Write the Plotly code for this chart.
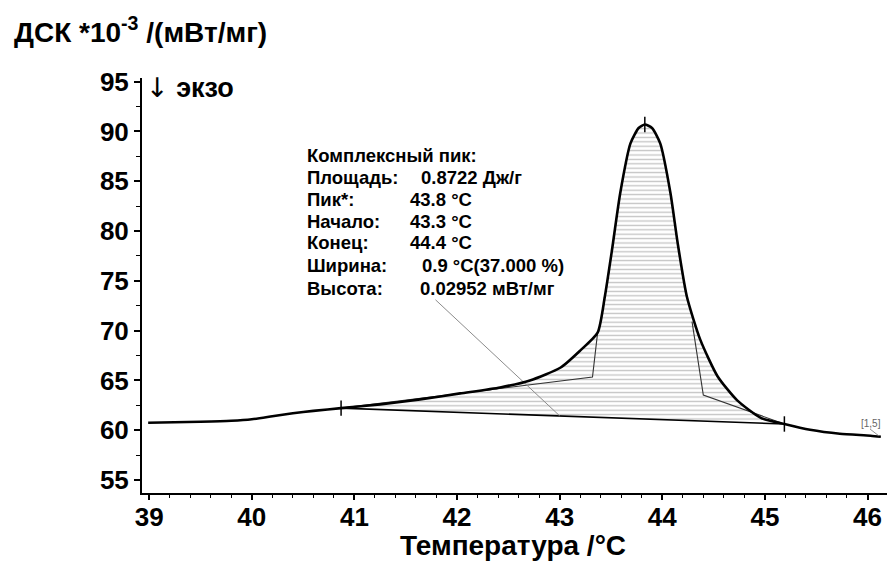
import plotly.graph_objects as go

# ---- data ----
temperature = [38.99, 39.5, 39.8, 40.0, 40.2, 40.4, 40.6, 40.87, 41.25, 41.64,
               42.03, 42.42, 42.71, 43.01, 43.2, 43.37, 43.44, 43.51, 43.59, 43.69,
               43.77, 43.83, 43.9, 43.98, 44.08, 44.15, 44.24, 44.37, 44.54, 44.73,
               44.96, 45.19, 45.44, 45.73, 46.03, 46.13]
dsc = [60.75, 60.85, 60.95, 61.1, 61.4, 61.7, 61.95, 62.22, 62.6, 63.1,
       63.7, 64.3, 65.0, 66.3, 68.0, 69.8, 73.4, 78.1, 83.8, 88.8,
       90.35, 90.7, 90.35, 88.8, 83.8, 78.8, 73.4, 69.1, 65.4, 63.0,
       61.25, 60.63, 60.05, 59.65, 59.45, 59.35]

peak_start = (40.87, 62.22)
peak_top = (43.83, 90.7)
peak_end = (45.19, 60.63)
onset_line_x = [40.87, 43.32, 43.37]
onset_line_y = [62.22, 65.35, 69.8]
endset_line_x = [44.29, 44.40, 45.19]
endset_line_y = [70.9, 63.54, 60.63]
leader_x = [41.79, 43.0]
leader_y = [73.1, 61.45]

x_ticks = [39, 40, 41, 42, 43, 44, 45, 46]
y_ticks = [55, 60, 65, 70, 75, 80, 85, 90, 95]

info_labels = ["Комплексный пик:", "Площадь:", "Пик*:", "Начало:", "Конец:", "Ширина:", "Высота:"]
info_values = ["", "0.8722 Дж/г", "43.8 °C", "43.3 °C", "44.4 °C", "0.9 °C(37.000 %)", "0.02952 мВт/мг"]
info_value_px = [0, 419, 408, 408, 408, 420, 418]
info_row_py = [155, 177, 199, 221, 243, 265, 288]

FONT = "Liberation Sans, Arial, sans-serif"
L, R, T, B = 142, 0, 78, 68
W, H = 887, 561
PW, PH = W - L - R, H - T - B


def pxx(px):
    return (px - L) / PW


def pxy(py):
    return (H - B - py) / PH


fig = go.Figure()

# hatched integration area
i0 = temperature.index(peak_start[0])
i1 = temperature.index(peak_end[0])
fig.add_trace(go.Scatter(
    x=temperature[i0:i1 + 1], y=dsc[i0:i1 + 1], mode="lines",
    fill="toself", line=dict(width=0, color="rgba(0,0,0,0)", shape="spline", smoothing=0.6),
    fillcolor="white",
    fillpattern=dict(shape="-", size=4.4, solidity=0.3, fgcolor="#8a8a8a", bgcolor="white"),
    hoverinfo="skip", showlegend=False))

# baseline
fig.add_trace(go.Scatter(x=[peak_start[0], peak_end[0]], y=[peak_start[1], peak_end[1]],
                         mode="lines", line=dict(color="black", width=1.6), showlegend=False))
# onset / endset construction lines
fig.add_trace(go.Scatter(x=onset_line_x, y=onset_line_y, mode="lines",
                         line=dict(color="#333333", width=1.1), showlegend=False))
fig.add_trace(go.Scatter(x=endset_line_x, y=endset_line_y, mode="lines",
                         line=dict(color="#333333", width=1.1), showlegend=False))
# leader line from info box
fig.add_trace(go.Scatter(x=leader_x, y=leader_y, mode="lines",
                         line=dict(color="#8c8c8c", width=1), showlegend=False))

# main curve
fig.add_trace(go.Scatter(x=temperature, y=dsc, mode="lines",
                         line=dict(color="black", width=2.6, shape="spline", smoothing=0.6),
                         showlegend=False))

# marks
fig.add_trace(go.Scatter(x=[peak_start[0], peak_top[0], peak_end[0]],
                         y=[peak_start[1], peak_top[1], peak_end[1]],
                         mode="markers",
                         marker=dict(symbol="line-ns", size=11, line=dict(color="black", width=1.5)),
                         showlegend=False))

annotations = [
    dict(x=pxx(12), y=pxy(30), xref="paper", yref="paper", xanchor="left", yanchor="middle",
         text="ДСК *10<sup>-3</sup> /(мВт/мг)", showarrow=False,
         font=dict(family=FONT, size=28, color="black", weight="bold")),
    dict(x=pxx(144), y=pxy(88), xref="paper", yref="paper", xanchor="left", yanchor="middle",
         text="<span style='font-family:DejaVu Sans;font-weight:normal'>↓</span>&nbsp;экзо",
         showarrow=False,
         font=dict(family=FONT, size=27, color="black", weight="bold")),
    dict(x=pxx(513), y=pxy(545), xref="paper", yref="paper", xanchor="center", yanchor="middle",
         text="Температура /°C", showarrow=False,
         font=dict(family=FONT, size=28, color="black", weight="bold")),
    dict(x=pxx(871), y=pxy(423), xref="paper", yref="paper", xanchor="center", yanchor="middle",
         text="[1,5]", showarrow=False,
         font=dict(family=FONT, size=10, color="#666666")),
]
for lab, val, vx, py in zip(info_labels, info_values, info_value_px, info_row_py):
    annotations.append(dict(x=pxx(305), y=pxy(py), xref="paper", yref="paper",
                            xanchor="left", yanchor="middle", text=lab, showarrow=False,
                            font=dict(family=FONT, size=18.5, color="black", weight="bold")))
    if val:
        annotations.append(dict(x=pxx(vx), y=pxy(py), xref="paper", yref="paper",
                                xanchor="left", yanchor="middle", text=val, showarrow=False,
                                font=dict(family=FONT, size=18.5, color="black", weight="bold")))

shapes = [
    dict(type="line", xref="paper", yref="paper", x0=pxx(870), y0=pxy(429), x1=pxx(879), y1=pxy(436),
         line=dict(color="#777777", width=0.8)),
]

fig.update_layout(
    width=W, height=H,
    margin=dict(l=L, r=R, t=T, b=B),
    paper_bgcolor="white", plot_bgcolor="white",
    annotations=annotations, shapes=shapes,
    showlegend=False,
    xaxis=dict(range=[38.93, 46.19], tickvals=x_ticks, ticktext=[str(v) for v in x_ticks],
               ticks="outside", ticklen=5, tickwidth=1.5, tickcolor="black",
               ticklabelstandoff=-5,
               showline=True, linewidth=2, linecolor="black", showgrid=False, zeroline=False,
               minor=dict(dtick=0.2, tick0=39, ticks="outside", ticklen=3, tickwidth=1.2,
                          tickcolor="black", showgrid=False),
               tickfont=dict(family=FONT, size=26, color="black", weight="bold")),
    yaxis=dict(range=[53.7, 95.37], tickvals=y_ticks, ticktext=[str(v) for v in y_ticks],
               ticks="outside", ticklen=6, tickwidth=1.5, tickcolor="black",
               showline=True, linewidth=2, linecolor="black", showgrid=False, zeroline=False,
               minor=dict(dtick=2.5, tick0=55, ticks="outside", ticklen=4, tickwidth=1.2,
                          tickcolor="black", showgrid=False),
               tickfont=dict(family=FONT, size=26, color="black", weight="bold")),
)

fig.write_html("out.html", config={"displayModeBar": False},
               post_script="document.body.style.margin='0';document.body.style.overflow='hidden';")
